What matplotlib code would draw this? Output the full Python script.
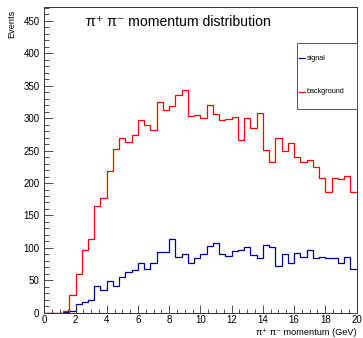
import numpy as np
import matplotlib
matplotlib.use("Agg")
import matplotlib.pyplot as plt
import matplotlib.patches as mpatches
from matplotlib.lines import Line2D
from matplotlib.ticker import MultipleLocator

plt.rcParams["font.family"] = ["Liberation Sans", "DejaVu Sans"]

# 50 bins of 0.4 GeV between 0 and 20 GeV
bin_edges = np.linspace(0.0, 20.0, 51)

background = [0, 0, 0, 3, 27, 59, 96, 114, 165, 177,
              218, 252, 269, 263, 274, 297, 290, 281, 325, 313,
              319, 335, 343, 303, 305, 300, 320, 307, 297, 299,
              302, 267, 301, 285, 308, 251, 233, 270, 249, 262,
              240, 233, 236, 224, 208, 186, 208, 206, 211, 186]

signal = [0, 0, 0, 1, 3, 14, 16, 20, 41, 35,
          49, 41, 55, 63, 66, 77, 68, 77, 93, 93,
          113, 86, 90, 77, 85, 91, 103, 107, 90, 87,
          95, 96, 101, 89, 84, 105, 101, 72, 90, 77,
          92, 86, 97, 84, 86, 85, 85, 77, 86, 68]

SIG_COLOR = "#000099"
BKG_COLOR = "#ff0000"
W, H = 363, 338


def fx(px):
    return px / W


def fy(py):
    return 1.0 - py / H


fig = plt.figure(figsize=(W / 100, H / 100), dpi=100)
fig.patch.set_facecolor("white")
ax = fig.add_axes([fx(44.3), fy(312.7), fx(356.5) - fx(44.3), fy(7.3) - fy(312.7)])

# outline only, no drop to zero at the histogram ends
ax.stairs(signal, bin_edges, baseline=None, color=SIG_COLOR, lw=0.9)
ax.stairs(background, bin_edges, baseline=None, color=BKG_COLOR, lw=0.9)

ax.set_xlim(0, 20)
ax.set_ylim(0, 471)

ax.xaxis.set_major_locator(MultipleLocator(2))
ax.xaxis.set_minor_locator(MultipleLocator(0.5))
ax.yaxis.set_major_locator(MultipleLocator(50))
ax.yaxis.set_minor_locator(MultipleLocator(10))

ax.tick_params(axis="both", which="both", direction="in", labelsize=7,
               width=0.6, color="#333333")
ax.tick_params(axis="y", which="major", length=6.5, pad=3.5)
ax.tick_params(axis="y", which="minor", length=3.4)
ax.tick_params(axis="x", which="major", length=5.8, pad=1.5)
ax.tick_params(axis="x", which="minor", length=2.9)
for sp in ax.spines.values():
    sp.set_linewidth(0.7)
    sp.set_color("#333333")

# titles, ROOT style: axis titles flush with the axis ends
fig.text(fx(11.7), fy(10), "Events", rotation=90, ha="center", va="top",
         fontsize=6.6)
fig.text(fx(356.5), fy(337), "π⁺ π⁻ momentum (GeV)",
         ha="right", va="bottom", fontsize=6.6)
fig.text(fx(86), fy(21.7), "π⁺ π⁻ momentum distribution",
         ha="left", va="center", fontsize=10.1)

# legend box
fig.patches.append(mpatches.Rectangle(
    (fx(297), fy(109)), fx(356.5) - fx(297), fy(43) - fy(109),
    transform=fig.transFigure, facecolor="white", edgecolor="#555555",
    linewidth=0.7, zorder=5))
for label, color, py in [("signal", SIG_COLOR, 58), ("background", BKG_COLOR, 91.7)]:
    fig.lines.append(Line2D([fx(298.5), fx(305)], [fy(py), fy(py)],
                            transform=fig.transFigure, color=color, lw=0.9,
                            zorder=6))
    fig.text(fx(307), fy(py), label, ha="left", va="center", fontsize=5.2,
             zorder=6)

fig.savefig("out.png", dpi=100)
